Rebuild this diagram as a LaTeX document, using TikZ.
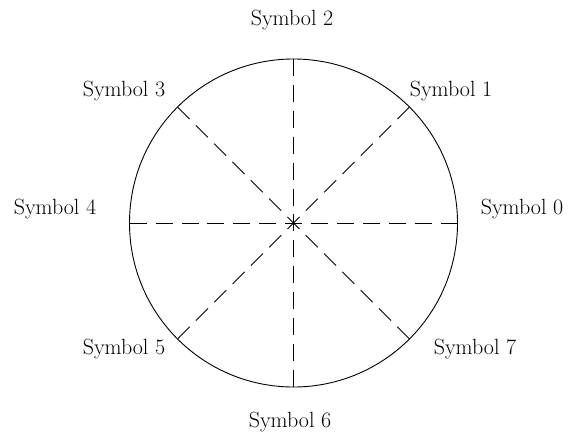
\documentclass[tikz,border=0pt]{standalone}
\usetikzlibrary{calc}
\begin{document}
\begin{tikzpicture}[x=1pt,y=1pt,
  lbl/.style={font=\fontsize{22}{26}\selectfont, inner sep=0pt},
  rim/.style={draw=black, line width=0.9pt},
  spoke/.style={draw=black, line width=0.9pt, dash pattern=on 17pt off 8.9pt}]
\useasboundingbox (0,0) rectangle (569,432);
\coordinate (c) at (293.5,209);
\node[rim, circle, minimum size=328pt, inner sep=0pt] (ring) at (c) {};
\foreach \k in {0,...,7}{
  \coordinate (p\k) at ($(c)+(\k*45:164)$);
}
\draw[spoke] (p0) -- (p4);
\draw[spoke] (p2) -- (p6);
\draw[spoke] (p1) -- (p5);
\draw[spoke] (p3) -- (p7);
\node[lbl] (s0) at (522,223) {Symbol 0};
\node[lbl] (s1) at (451,341) {Symbol 1};
\node[lbl] (s2) at (292,412) {Symbol 2};
\node[lbl] (s3) at (124,341) {Symbol 3};
\node[lbl] (s4) at (55,223) {Symbol 4};
\node[lbl] (s5) at (124,83) {Symbol 5};
\node[lbl] (s6) at (290,10) {Symbol 6};
\node[lbl] (s7) at (475,83) {Symbol 7};
\end{tikzpicture}
\end{document}
